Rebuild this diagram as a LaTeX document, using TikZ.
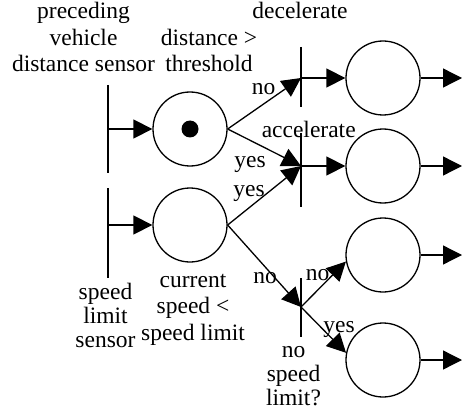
\documentclass[tikz,border=0pt]{standalone}
\usepackage{fontspec}
\setmainfont{Liberation Serif}
\usetikzlibrary{arrows.meta,calc}
\begin{document}
\begin{tikzpicture}[x=1pt,y=-1pt,
  place/.style={circle,draw,line width=1.3pt,minimum size=74pt,inner sep=0pt},
  token/.style={circle,fill,minimum size=17pt,inner sep=0pt},
  bar/.style={line width=1.3pt},
  arc/.style={line width=1.3pt,-{Triangle[length=19pt,width=19pt]}},
  lab/.style={font=\fontsize{23.5}{26.5}\selectfont,inner sep=0pt,align=center,anchor=base},
  tight/.style={font=\fontsize{23.5}{24}\selectfont},
]
\useasboundingbox (0,0) rectangle (462,414);
% coordinates of transitions (bars)
\coordinate (s1) at (108,129);
\coordinate (s2) at (108,225);
\coordinate (jd) at (301,78);
\coordinate (ja) at (301,166);
\coordinate (jn) at (301,307);
% places
\node[place] (p1) at (190,129) {};
\node[token] (tok) at (p1) {};
\node[place] (p2) at (190,225) {};
\node[place] (p3) at (383,78) {};
\node[place] (p4) at (383,166) {};
\node[place] (p5) at (383,255) {};
\node[place] (p6) at (383,360) {};
% output ends
\coordinate (o3) at (462,78);
\coordinate (o4) at (462,166);
\coordinate (o5) at (462,255);
\coordinate (o6) at (462,360);
% labels (anchor = baseline of the last line)
\node[lab] (lprec) at (83.5,72) {preceding\\vehicle\\distance sensor};
\node[lab] (ldist) at (209,72) {distance >\\threshold};
\node[lab] (ldec) at (300,19) {decelerate};
\node[lab] (lno1) at (263.5,95) {no};
\node[lab] (lacc) at (308.7,137) {accelerate};
\node[lab] (lyes1) at (250,167) {yes};
\node[lab] (lyes2) at (249,196) {yes};
\node[lab] (lno2) at (265,283) {no};
\node[lab] (lno3) at (317.5,280) {no};
\node[lab] (lyes3) at (339,332) {yes};
\node[lab,tight] (lsls) at (105.5,347) {speed\\limit\\sensor};
\node[lab] (lcur) at (193,340) {current\\speed <\\speed limit};
\node[lab,tight] (lnsl) at (293.5,405) {no\\speed\\limit?};
% bars
\draw[bar] ($(s1)+(0,-44)$) -- ($(s1)+(0,44)$);
\draw[bar] ($(s2)+(0,-37)$) -- ($(s2)+(0,53)$);
\draw[bar] ($(jd)+(0,-31)$) -- ($(jd)+(0,29)$);
\draw[bar] ($(ja)+(0,-33)$) -- ($(ja)+(0,41)$);
\draw[bar] ($(jn)+(0,-29)$) -- ($(jn)+(0,30)$);
% arcs
\draw[arc] (s1) -- (p1);
\draw[arc] (s2) -- (p2);
\draw[arc] (p1.east) -- (jd);
\draw[arc] (p1.east) -- (ja);
\draw[arc] (p2.east) -- (ja);
\draw[arc] (p2.east) -- (jn);
\draw[arc] (jd) -- (p3);
\draw[arc] (ja) -- (p4);
\draw[arc] (jn) -- (p5.190);
\draw[arc] (jn) -- (p6.169);
\draw[arc] (p3) -- (o3);
\draw[arc] (p4) -- (o4);
\draw[arc] (p5) -- (o5);
\draw[arc] (p6) -- (o6);
\end{tikzpicture}
\end{document}
